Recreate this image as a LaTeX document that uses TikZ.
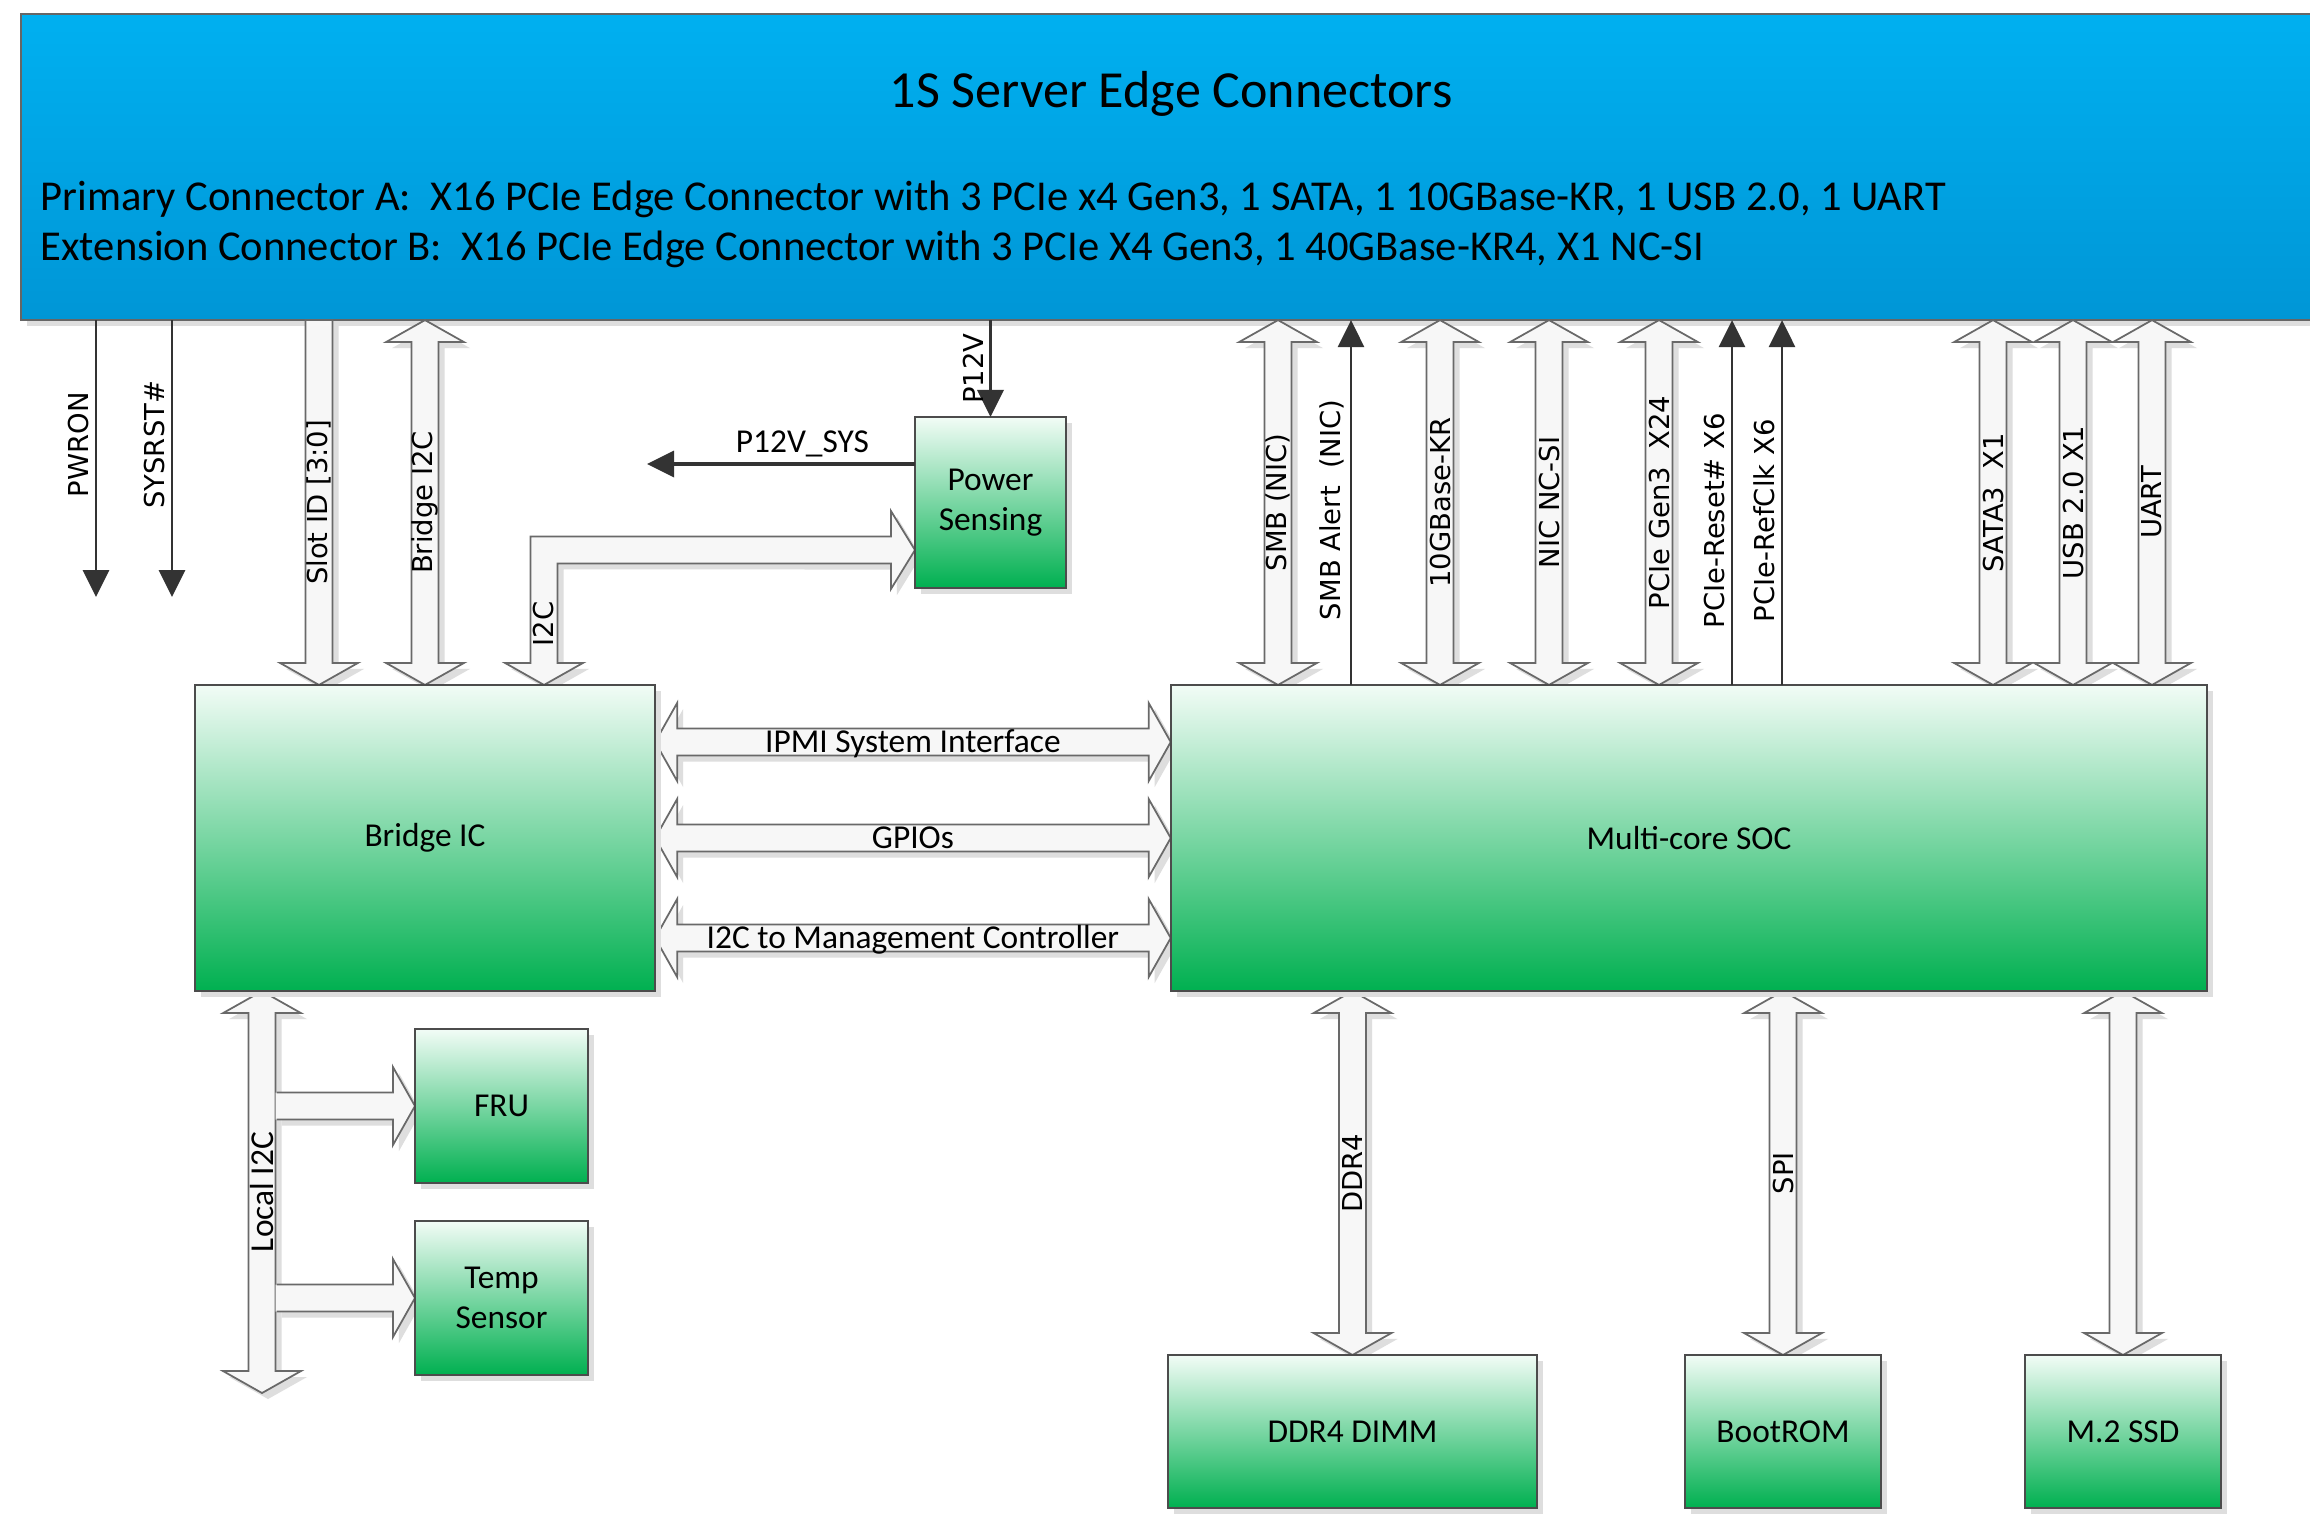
\documentclass[tikz,border=0pt]{standalone}
\usepackage{fontspec}
\setmainfont{Carlito}
\newfontfamily\vfont{DejaVu Sans}
\usetikzlibrary{arrows.meta,calc,shadows}
\pgfdeclarelayer{edgelayer}
\pgfdeclarelayer{buslayer}
\pgfsetlayers{edgelayer,buslayer,main}

\definecolor{edgetop}{RGB}{0,176,240}
\definecolor{edgebot}{RGB}{0,150,214}
\definecolor{boxtop}{RGB}{242,252,246}
\definecolor{boxbot}{RGB}{0,176,80}
\definecolor{busfill}{RGB}{247,247,247}
\definecolor{busline}{RGB}{105,105,105}

\tikzset{
  softshadow/.style={drop shadow={shadow xshift=0.06cm,shadow yshift=-0.06cm,fill=black!13,opacity=1}},
  edgebox/.style={draw=black!60,line width=0.6pt,top color=edgetop,bottom color=edgebot,inner sep=0pt,outer sep=0pt,softshadow},
  greenbox/.style={draw=black!70,line width=0.6pt,top color=boxtop,bottom color=boxbot,inner sep=0pt,outer sep=0pt,align=center,font=\fontsize{9.5}{11.4}\selectfont,softshadow},
  fatbus/.style={draw=busline,line width=0.5pt,fill=busfill,softshadow},
  fatfill/.style={fill=busfill,softshadow},
  fatedge/.style={draw=busline,line width=0.5pt},
  sig/.style={draw=black!80,line width=0.8pt,-{Triangle[length=0.27cm,width=0.26cm]}},
  vlab/.style={font=\vfont\fontsize{7.8}{9}\selectfont,rotate=90,inner sep=0pt},
  sidelab/.style={font=\vfont\fontsize{7.8}{9}\selectfont,rotate=90,inner sep=1.5pt,anchor=south},
  llab/.style={font=\fontsize{9.5}{11.4}\selectfont,rotate=90,inner sep=0pt},
  hlab/.style={font=\fontsize{9.5}{11.4}\selectfont,inner sep=0pt,anchor=base}
}

\newcommand{\vbus}[5][vlab]{%
  \path[fatbus] (#3) -- ($(#3)+(39,22)$) -- ($(#3)+(13.5,22)$) -- ($(#4)+(13.5,-22)$) -- ($(#4)+(39,-22)$) -- (#4) -- ($(#4)+(-39,-22)$) -- ($(#4)+(-13.5,-22)$) -- ($(#3)+(-13.5,22)$) -- ($(#3)+(-39,22)$) -- cycle;
  \node[#1] (#2) at ($(#3)!0.5!(#4)$) {#5};}
\newcommand{\vbusdown}[5][vlab]{%
  \path[fatbus] ($(#3)+(-13.5,0)$) -- ($(#3)+(13.5,0)$) -- ($(#4)+(13.5,-22)$) -- ($(#4)+(39,-22)$) -- (#4) -- ($(#4)+(-39,-22)$) -- ($(#4)+(-13.5,-22)$) -- cycle;
  \node[#1] (#2) at ($(#3)!0.5!(#4)$) {#5};}
\newcommand{\hbus}[4]{%
  \path[fatbus] (#2) -- ($(#2)+(22,-39)$) -- ($(#2)+(22,-13.5)$) -- ($(#3)+(-22,-13.5)$) -- ($(#3)+(-22,-39)$) -- (#3) -- ($(#3)+(-22,39)$) -- ($(#3)+(-22,13.5)$) -- ($(#2)+(22,13.5)$) -- ($(#2)+(22,39)$) -- cycle;
  \node[hlab] (#1) at ($(#2)!0.5!(#3)+(0,10.5)$) {#4};}
\newcommand{\hbusr}[2]{%
  \path[fatfill] ($(#1)+(0,-13.5)$) -- ($(#2)+(-22,-13.5)$) -- ($(#2)+(-22,-39)$) -- (#2) -- ($(#2)+(-22,39)$) -- ($(#2)+(-22,13.5)$) -- ($(#1)+(0,13.5)$) -- cycle;
  \path[fatedge] ($(#1)+(1,-13.5)$) -- ($(#2)+(-22,-13.5)$) -- ($(#2)+(-22,-39)$) -- (#2) -- ($(#2)+(-22,39)$) -- ($(#2)+(-22,13.5)$) -- ($(#1)+(1,13.5)$);}

\begin{document}
\begin{tikzpicture}[x=0.01cm,y=-0.01cm]
\useasboundingbox (0,0) rectangle (2310,1517);
\begin{pgfonlayer}{edgelayer}
\fill[white] (0,0) rectangle (2310,1517);
\node[edgebox,minimum width=23.08cm,minimum height=3.06cm] (edge) at (1176,167) {};
\end{pgfonlayer}
\node[font=\fontsize{14.8}{17}\selectfont,anchor=base,inner sep=0pt] (title) at (1171,107) {1S Server Edge Connectors};
\node[font=\fontsize{12.1}{14}\selectfont,anchor=base west,inner sep=0pt] (conna) at (40,210) {Primary Connector A:\ \ X16 PCIe Edge Connector with 3 PCIe x4 Gen3, 1 SATA, 1 10GBase-KR, 1 USB 2.0, 1 UART};
\node[font=\fontsize{12.1}{14}\selectfont,anchor=base west,inner sep=0pt] (connb) at (40,260) {Extension Connector B:\ \ X16 PCIe Edge Connector with 3 PCIe X4 Gen3, 1 40GBase-KR4, X1 NC-SI};

\node[greenbox,minimum width=4.6cm,minimum height=3.06cm] (bridge) at (425,838) {Bridge IC};
\node[greenbox,minimum width=10.36cm,minimum height=3.06cm] (soc) at (1689,838) {Multi-core SOC};
\node[greenbox,minimum width=1.51cm,minimum height=1.71cm] (power) at (990.5,502.5) {Power\\Sensing};
\node[greenbox,minimum width=1.73cm,minimum height=1.54cm] (fru) at (501.5,1106) {FRU};
\node[greenbox,minimum width=1.73cm,minimum height=1.54cm] (temp) at (501.5,1298) {Temp\\Sensor};
\node[greenbox,minimum width=3.69cm,minimum height=1.53cm] (dimm) at (1352.5,1431.5) {DDR4 DIMM};
\node[greenbox,minimum width=1.96cm,minimum height=1.53cm] (bootrom) at (1783,1431.5) {BootROM};
\node[greenbox,minimum width=1.96cm,minimum height=1.53cm] (ssd) at (2123,1431.5) {M.2 SSD};

\coordinate (xslot) at (319,0);
\coordinate (xbridge) at (425,0);
\coordinate (xsmb) at (1278,0);
\coordinate (xalert) at (1351,0);
\coordinate (xkr) at (1440,0);
\coordinate (xncsi) at (1549,0);
\coordinate (xpcie) at (1659,0);
\coordinate (xreset) at (1732,0);
\coordinate (xrefclk) at (1782,0);
\coordinate (xsata) at (1993,0);
\coordinate (xusb) at (2073,0);
\coordinate (xuart) at (2152,0);
\coordinate (xlocalr) at (275.5,0);
\coordinate (pwronend) at (96,597);
\coordinate (sysrstend) at (172,597);
\coordinate (sysend) at (647,464);
\coordinate (i2cbend) at (544,550);
\coordinate (localend) at (262,1393);
\coordinate (yipmi) at (0,742);
\coordinate (ygpio) at (0,838);
\coordinate (ymgmt) at (0,938);

\begin{pgfonlayer}{buslayer}
\vbusdown{slotlab}{edge.south -| xslot}{bridge.north -| xslot}{Slot ID [3:0]}
\vbus{bridgelab}{edge.south -| xbridge}{bridge.north -| xbridge}{Bridge I2C}
\path[fatbus] ($(bridge.north -| i2cbend)+(-13.5,-148.5)$) -- ($(power.west |- i2cbend)+(-24,-13.5)$) -- ($(power.west |- i2cbend)+(-24,-39)$) -- (power.west |- i2cbend) -- ($(power.west |- i2cbend)+(-24,39)$) -- ($(power.west |- i2cbend)+(-24,13.5)$) -- ($(bridge.north -| i2cbend)+(13.5,-121.5)$) -- ($(bridge.north -| i2cbend)+(13.5,-22)$) -- ($(bridge.north -| i2cbend)+(39,-22)$) -- (bridge.north -| i2cbend) -- ($(bridge.north -| i2cbend)+(-39,-22)$) -- ($(bridge.north -| i2cbend)+(-13.5,-22)$) -- cycle;
\node[vlab] (i2clab) at ($(bridge.north -| i2cbend)+(0,-61)$) {I2C};
\vbus{smblab}{edge.south -| xsmb}{soc.north -| xsmb}{SMB (NIC)}
\vbus{krlab}{edge.south -| xkr}{soc.north -| xkr}{10GBase-KR}
\vbus{ncsilab}{edge.south -| xncsi}{soc.north -| xncsi}{NIC NC-SI}
\vbus{pcielab}{edge.south -| xpcie}{soc.north -| xpcie}{PCIe Gen3\ \ X24}
\vbus{satalab}{edge.south -| xsata}{soc.north -| xsata}{SATA3\ \ X1}
\vbus{usblab}{edge.south -| xusb}{soc.north -| xusb}{USB 2.0 X1}
\vbus{uartlab}{edge.south -| xuart}{soc.north -| xuart}{UART}
\hbus{ipmilab}{bridge.east |- yipmi}{soc.west |- yipmi}{IPMI System Interface}
\hbus{gpiolab}{bridge.east |- ygpio}{soc.west |- ygpio}{GPIOs}
\hbus{mgmtlab}{bridge.east |- ymgmt}{soc.west |- ymgmt}{I2C to Management Controller}
\vbus{ddrlab}{soc.south -| dimm.north}{dimm.north}{DDR4}
\vbus{spilab}{soc.south -| bootrom.north}{bootrom.north}{SPI}
\vbus{ssdlab}{soc.south -| ssd.north}{ssd.north}{}
\vbus[llab]{locallab}{bridge.south -| localend}{localend}{Local I2C}
\hbusr{fru.west -| xlocalr}{fru.west}
\hbusr{temp.west -| xlocalr}{temp.west}
\end{pgfonlayer}

\draw[sig] (edge.south -| pwronend) -- (pwronend) node[sidelab,pos=0.45] (pwronlab) {PWRON};
\draw[sig] (edge.south -| sysrstend) -- (sysrstend) node[sidelab,pos=0.45] (sysrstlab) {SYSRST\#};
\draw[sig,line width=1pt] (edge.south -| power.north) -- (power.north) node[sidelab,midway] (p12vlab) {P12V};
\draw[sig,line width=1pt] (power.west |- sysend) -- (sysend) node[hlab,pos=0.42,yshift=0.12cm] (p12vsyslab) {P12V\_SYS};
\draw[sig] (soc.north -| xalert) -- (edge.south -| xalert) node[sidelab,pos=0.48] (alertlab) {SMB Alert\ \ (NIC)};
\draw[sig] (soc.north -| xreset) -- (edge.south -| xreset) node[sidelab,pos=0.45] (resetlab) {PCIe-Reset\# X6};
\draw[sig] (soc.north -| xrefclk) -- (edge.south -| xrefclk) node[sidelab,pos=0.45] (refclklab) {PCIe-RefClk X6};
\end{tikzpicture}
\end{document}
